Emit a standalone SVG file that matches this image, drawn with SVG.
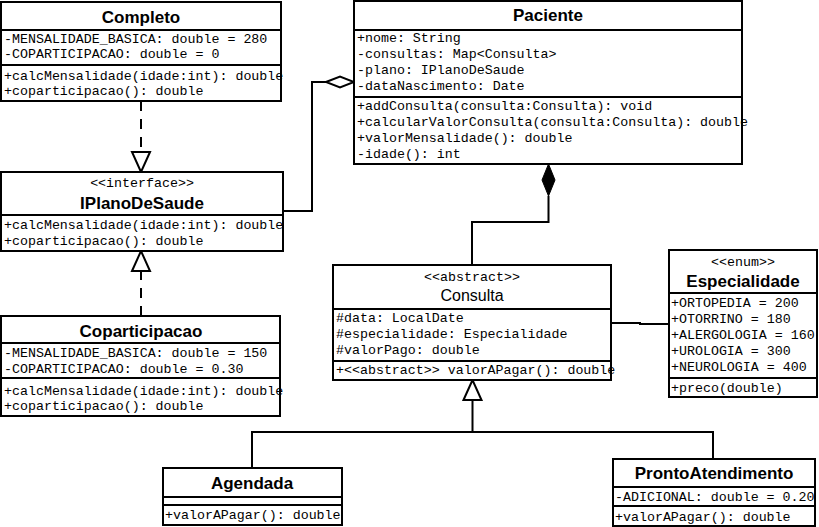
<svg xmlns="http://www.w3.org/2000/svg" width="819" height="527" viewBox="0 0 819 527">
<style>
.box{fill:#fff;stroke:#000;stroke-width:2}
.sep{stroke:#000;stroke-width:2}
.con{fill:none;stroke:#000;stroke-width:2}
.dash{stroke-dasharray:10 8}
.m{font-family:"Liberation Mono","Courier New",monospace;font-size:13.3px;fill:#000}
.s{font-family:"Liberation Mono","Courier New",monospace;font-size:13.3px;fill:#000;text-anchor:middle}
.t{font-family:"Liberation Sans",Arial,sans-serif;font-size:17px;font-weight:bold;fill:#000;text-anchor:middle}
.tn{font-family:"Liberation Sans",Arial,sans-serif;font-size:16px;fill:#000;text-anchor:middle}
</style>
<defs>
<marker id="tri" markerUnits="userSpaceOnUse" markerWidth="24" markerHeight="24" viewBox="-2 -11 24 22" refX="0" refY="0" orient="auto">
<path d="M0,-9 L20,0 L0,9 Z" fill="#fff" stroke="#000" stroke-width="2"/>
</marker>
<marker id="agg" markerUnits="userSpaceOnUse" markerWidth="32" markerHeight="16" viewBox="-2 -8 32 16" refX="0" refY="0" orient="auto">
<path d="M0,0 L14,-5.5 L28,0 L14,5.5 Z" fill="#fff" stroke="#000" stroke-width="2"/>
</marker>
<marker id="comp" markerUnits="userSpaceOnUse" markerWidth="36" markerHeight="18" viewBox="-2 -9 36 18" refX="0" refY="0" orient="auto">
<path d="M0,0 L16,-6.5 L32,0 L16,6.5 Z" fill="#000" stroke="#000" stroke-width="1"/>
</marker>
</defs>
<rect width="819" height="527" fill="#fff"/>

<g id="connectors">
<path class="con dash" d="M141,101 L141,152" marker-end="url(#tri)"/>
<path class="con dash" d="M141,316 L141,271" marker-end="url(#tri)"/>
<path class="con" d="M283,211 L312,211 L312,82 L326,82" marker-end="url(#agg)"/>
<path class="con" d="M472,265 L472,222 L548.5,222 L548.5,196" marker-end="url(#comp)"/>
<path class="con" d="M611,323 L640,323 L640,324 L669,324"/>
<path class="con" d="M252,468 L252,432 L472.5,432 L472.5,400" marker-end="url(#tri)"/>
<path class="con" d="M713,459 L713,432 L472.5,432"/>
</g>

<g id="Completo">
<rect class="box" x="1" y="2" width="280" height="99"/>
<line class="sep" x1="1" y1="30" x2="281" y2="30"/>
<line class="sep" x1="1" y1="65" x2="281" y2="65"/>
<text class="t" x="141" y="23">Completo</text>
<text class="m" x="4" y="43">-MENSALIDADE_BASICA: double = 280</text>
<text class="m" x="4" y="58">-COPARTICIPACAO: double = 0</text>
<text class="m" x="4" y="80">+calcMensalidade(idade:int): double</text>
<text class="m" x="4" y="95">+coparticipacao(): double</text>
</g>

<g id="IPlanoDeSaude">
<rect class="box" x="1" y="172" width="282" height="79"/>
<line class="sep" x1="1" y1="215" x2="283" y2="215"/>
<text class="s" x="142" y="187">&lt;&lt;interface&gt;&gt;</text>
<text class="t" x="142" y="209">IPlanoDeSaude</text>
<text class="m" x="4" y="229">+calcMensalidade(idade:int): double</text>
<text class="m" x="4" y="245">+coparticipacao(): double</text>
</g>

<g id="Coparticipacao">
<rect class="box" x="1" y="316" width="279" height="100"/>
<line class="sep" x1="1" y1="343" x2="280" y2="343"/>
<line class="sep" x1="1" y1="378" x2="280" y2="378"/>
<text class="t" x="141" y="337">Coparticipacao</text>
<text class="m" x="4" y="357">-MENSALIDADE_BASICA: double = 150</text>
<text class="m" x="4" y="373">-COPARTICIPACAO: double = 0.30</text>
<text class="m" x="4" y="395">+calcMensalidade(idade:int): double</text>
<text class="m" x="4" y="410">+coparticipacao(): double</text>
</g>

<g id="Paciente">
<rect class="box" x="354" y="1" width="388" height="163"/>
<line class="sep" x1="354" y1="30" x2="742" y2="30"/>
<line class="sep" x1="354" y1="97" x2="742" y2="97"/>
<text class="t" x="548" y="21">Paciente</text>
<text class="m" x="357" y="42">+nome: String</text>
<text class="m" x="357" y="58">-consultas: Map&lt;Consulta&gt;</text>
<text class="m" x="357" y="74">-plano: IPlanoDeSaude</text>
<text class="m" x="357" y="90">-dataNascimento: Date</text>
<text class="m" x="357" y="110">+addConsulta(consulta:Consulta): void</text>
<text class="m" x="357" y="126">+calcularValorConsulta(consulta:Consulta): double</text>
<text class="m" x="357" y="142">+valorMensalidade(): double</text>
<text class="m" x="357" y="158">-idade(): int</text>
</g>

<g id="Consulta">
<rect class="box" x="333" y="265" width="278" height="115"/>
<line class="sep" x1="333" y1="309" x2="611" y2="309"/>
<line class="sep" x1="333" y1="361" x2="611" y2="361"/>
<text class="s" x="472" y="281">&lt;&lt;abstract&gt;&gt;</text>
<text class="tn" x="472" y="301">Consulta</text>
<text class="m" x="336" y="322">#data: LocalDate</text>
<text class="m" x="336" y="338">#especialidade: Especialidade</text>
<text class="m" x="336" y="354">#valorPago: double</text>
<text class="m" x="336" y="374">+&lt;&lt;abstract&gt;&gt; valorAPagar(): double</text>
</g>

<g id="Especialidade">
<rect class="box" x="669" y="250" width="148" height="147"/>
<line class="sep" x1="669" y1="293" x2="817" y2="293"/>
<line class="sep" x1="669" y1="378" x2="817" y2="378"/>
<text class="s" x="743" y="266">&lt;&lt;enum&gt;&gt;</text>
<text class="t" x="743" y="287">Especialidade</text>
<text class="m" x="671" y="307">+ORTOPEDIA = 200</text>
<text class="m" x="671" y="323">+OTORRINO = 180</text>
<text class="m" x="671" y="339">+ALERGOLOGIA = 160</text>
<text class="m" x="671" y="355">+UROLOGIA = 300</text>
<text class="m" x="671" y="371">+NEUROLOGIA = 400</text>
<text class="m" x="671" y="392">+preco(double)</text>
</g>

<g id="Agendada">
<rect class="box" x="163" y="468" width="179" height="57"/>
<line class="sep" x1="163" y1="497" x2="342" y2="497"/>
<line class="sep" x1="163" y1="505" x2="342" y2="505"/>
<text class="t" x="252" y="489">Agendada</text>
<text class="m" x="165" y="519">+valorAPagar(): double</text>
</g>

<g id="ProntoAtendimento">
<rect class="box" x="613" y="459" width="202" height="67"/>
<line class="sep" x1="613" y1="487" x2="815" y2="487"/>
<line class="sep" x1="613" y1="506" x2="815" y2="506"/>
<text class="t" x="714" y="479">ProntoAtendimento</text>
<text class="m" x="615" y="501">-ADICIONAL: double = 0.20</text>
<text class="m" x="615" y="521">+valorAPagar(): double</text>
</g>
</svg>
